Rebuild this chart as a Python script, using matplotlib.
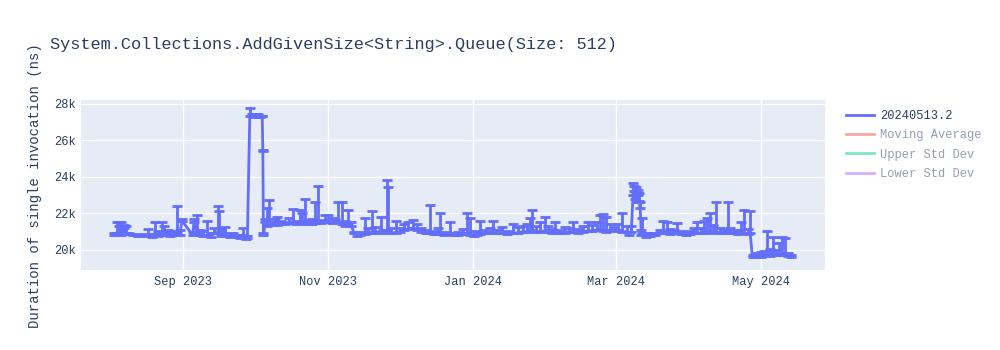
import matplotlib
matplotlib.use("Agg")
import matplotlib.pyplot as plt
import matplotlib.dates as mdates
from matplotlib.lines import Line2D
from matplotlib.ticker import FuncFormatter
import pandas as pd

plt.rcParams['font.family'] = ['Liberation Mono', 'DejaVu Sans Mono']

title = "System.Collections.AddGivenSize<String>.Queue(Size: 512)"
y_label = "Duration of single invocation (ns)"
series_name = "20240513.2"
hidden_series = ["Moving Average", "Upper Std Dev", "Lower Std Dev"]

dates = [
    "2023-08-03", "2023-08-04", "2023-08-05", "2023-08-06", "2023-08-07", "2023-08-08",
    "2023-08-09", "2023-08-11", "2023-08-13", "2023-08-15", "2023-08-17", "2023-08-19",
    "2023-08-20", "2023-08-21 12:00", "2023-08-23", "2023-08-24", "2023-08-25 12:00",
    "2023-08-26 12:00", "2023-08-28", "2023-08-29 12:00", "2023-08-30 12:00",
    "2023-08-31 12:00", "2023-09-05", "2023-09-05 12:00", "2023-09-07", "2023-09-08",
    "2023-09-09 12:00", "2023-09-11", "2023-09-12 12:00", "2023-09-14", "2023-09-15 12:00",
    "2023-09-16", "2023-09-17", "2023-09-18 12:00", "2023-09-20 12:00", "2023-09-22",
    "2023-09-23 12:00", "2023-09-25", "2023-09-26", "2023-09-27 12:00", "2023-09-28",
    "2023-09-29", "2023-09-30", "2023-10-01", "2023-10-01 18:00", "2023-10-02 12:00",
    "2023-10-03 12:00", "2023-10-04 06:00", "2023-10-04 12:00", "2023-10-04 18:00",
    "2023-10-05 12:00", "2023-10-06 06:00", "2023-10-07 06:00", "2023-10-08 12:00",
    "2023-10-09 18:00", "2023-10-10 12:00", "2023-10-12 06:00", "2023-10-14",
    "2023-10-15 12:00", "2023-10-17", "2023-10-18 12:00", "2023-10-20 06:00", "2023-10-21",
    "2023-10-22 06:00", "2023-10-24", "2023-10-25 06:00", "2023-10-26 12:00",
    "2023-10-27 18:00", "2023-10-29", "2023-10-30 18:00", "2023-11-01", "2023-11-02 18:00",
    "2023-11-04", "2023-11-05 06:00", "2023-11-07", "2023-11-08 06:00", "2023-11-09 12:00",
    "2023-11-10 18:00", "2023-11-12", "2023-11-13 06:00", "2023-11-14 12:00",
    "2023-11-16 12:00", "2023-11-17 18:00", "2023-11-19 12:00", "2023-11-20 18:00",
    "2023-11-23", "2023-11-24", "2023-11-25 18:00", "2023-11-26 06:00", "2023-11-27 12:00",
    "2023-11-29 12:00", "2023-12-01 06:00", "2023-12-03", "2023-12-04 18:00",
    "2023-12-06 18:00", "2023-12-08 12:00", "2023-12-10", "2023-12-12 06:00", "2023-12-14",
    "2023-12-15 12:00", "2023-12-17", "2023-12-18", "2023-12-19 18:00", "2023-12-22 06:00",
    "2023-12-24", "2023-12-25 18:00", "2023-12-27 18:00", "2023-12-29 12:00",
    "2023-12-30 18:00", "2024-01-01 12:00", "2024-01-02 18:00", "2024-01-04", "2024-01-06",
    "2024-01-08 06:00", "2024-01-09 12:00", "2024-01-11", "2024-01-13 06:00",
    "2024-01-15 06:00", "2024-01-17 18:00", "2024-01-20", "2024-01-22", "2024-01-23 18:00",
    "2024-01-25", "2024-01-25 18:00", "2024-01-27 12:00", "2024-01-29 06:00", "2024-01-31",
    "2024-02-01 12:00", "2024-02-03 06:00", "2024-02-04 12:00", "2024-02-06 12:00",
    "2024-02-08 18:00", "2024-02-10 12:00", "2024-02-12", "2024-02-14 06:00",
    "2024-02-16 06:00", "2024-02-18 12:00", "2024-02-20", "2024-02-22 06:00",
    "2024-02-23 12:00", "2024-02-24 18:00", "2024-02-26", "2024-02-27 12:00",
    "2024-02-29 06:00", "2024-03-02", "2024-03-03 18:00", "2024-03-05 12:00",
    "2024-03-06 12:00", "2024-03-07 12:00", "2024-03-08 06:00", "2024-03-08 18:00",
    "2024-03-09", "2024-03-09 12:00", "2024-03-10", "2024-03-10 12:00", "2024-03-10 18:00",
    "2024-03-11 06:00", "2024-03-11 18:00", "2024-03-12", "2024-03-13 12:00",
    "2024-03-15 12:00", "2024-03-17 12:00", "2024-03-19 18:00", "2024-03-21",
    "2024-03-22 12:00", "2024-03-24", "2024-03-25 12:00", "2024-03-26 18:00",
    "2024-03-28 12:00", "2024-03-30 12:00", "2024-04-01 06:00", "2024-04-03",
    "2024-04-04 06:00", "2024-04-05 18:00", "2024-04-07 06:00", "2024-04-08 12:00",
    "2024-04-09 18:00", "2024-04-11", "2024-04-12 06:00", "2024-04-14", "2024-04-15 12:00",
    "2024-04-17", "2024-04-18", "2024-04-19 18:00", "2024-04-21 12:00", "2024-04-22 18:00",
    "2024-04-24", "2024-04-25 18:00", "2024-04-26 12:00", "2024-04-27 12:00",
    "2024-04-28 12:00", "2024-04-30", "2024-05-01 06:00", "2024-05-02 12:00",
    "2024-05-03 18:00", "2024-05-05", "2024-05-06 06:00", "2024-05-07 12:00",
    "2024-05-08 18:00", "2024-05-10", "2024-05-11 06:00", "2024-05-12 12:00",
    "2024-05-13 12:00",
]

values = [
    20800, 20900, 21300, 20800, 21200, 20900,
    20850, 20800, 20750, 20750, 20800, 20700,
    20850, 20750, 20900, 20800, 20900,
    20750, 20800, 20900, 20800,
    21600, 20800, 21500, 20900, 20800,
    20750, 20800, 20700, 20900, 20900,
    21000, 20750, 20800, 20700, 20750,
    20700, 20650, 20800, 20600, 20650,
    27300, 27350, 27250, 27300, 27350,
    27250, 27300, 25400, 20800,
    21500, 21300, 21400, 21350,
    21400, 21350, 21400, 21400,
    21450, 21500, 21400, 21450, 21500,
    21400, 21450, 21400, 21450,
    21500, 21450, 21600, 21500, 21450,
    21500, 21500, 21400, 21300, 21350,
    21300, 20900, 20750, 20800,
    20850, 20900, 21000, 20950,
    21000, 20900, 21100, 21000, 20900,
    20950, 21000, 21100, 21150,
    21200, 21100, 21000, 20900, 20900,
    20850, 20900, 20850, 20800, 20850,
    20800, 20800, 20850, 20900,
    20800, 20750, 20800, 20850, 20900,
    20900, 20950, 20900, 20900,
    20850, 20900, 20950, 21000, 21000,
    21050, 21100, 21000, 21000, 21050,
    21000, 20950, 20950, 20900,
    20950, 21000, 21000, 20950,
    21000, 21050, 21050, 21100,
    21100, 21050, 21000, 21100,
    21050, 21100, 21000, 21000,
    20800, 21000, 23000, 23200,
    22800, 23100, 22600, 23000, 22700,
    22300, 20800, 20900, 20700,
    20750, 20800, 20900, 20950,
    21000, 20850, 20900, 20900,
    20850, 20800, 20850, 20900,
    20950, 20900, 20950, 21000,
    21000, 20950, 21000, 20900, 20900,
    20950, 20900, 20900, 20850, 20900,
    20900, 20850, 20900, 19600,
    19600, 19650, 19600, 19700,
    19700, 19650, 19750, 19700,
    19800, 19700, 19750, 19650,
    19600,
]

upper_error = [
    100, 600, 200, 700, 150, 400,
    100, 50, 50, 100, 350, 150,
    650, 300, 600, 500, 200,
    300, 200, 1500, 300,
    100, 200, 200, 1000, 300,
    300, 800, 200, 300, 1500,
    1100, 400, 450, 200, 150,
    100, 100, 400, 150, 100,
    450, 100, 100, 150, 100,
    100, 50, 50, 150,
    200, 1000, 1350, 200,
    300, 450, 200, 150,
    300, 750, 200, 750, 500,
    1400, 200, 300, 1150,
    2000, 200, 300, 400, 300,
    200, 1100, 1200, 300, 850,
    200, 100, 150, 200,
    900, 300, 1100, 300,
    800, 200, 2700, 2450, 300,
    650, 200, 300, 400,
    450, 300, 200, 200, 1550,
    200, 300, 1150, 200, 650,
    150, 200, 300, 1100,
    950, 300, 200, 750, 200,
    300, 650, 200, 350,
    200, 500, 300, 300, 400,
    700, 1100, 300, 500, 750,
    300, 200, 550, 200,
    300, 200, 500, 200,
    300, 450, 300, 400,
    800, 900, 800, 300,
    200, 300, 1000, 300,
    200, 300, 650, 300,
    400, 350, 500, 300, 400,
    300, 300, 850, 200,
    150, 100, 200, 650,
    500, 300, 200, 550,
    200, 150, 200, 300,
    550, 300, 650, 750,
    1000, 400, 1600, 300, 200,
    1650, 300, 200, 250, 600,
    1300, 300, 1200, 100,
    150, 200, 300, 250,
    1350, 400, 950, 300,
    600, 1000, 900, 200,
    100,
]

x = pd.to_datetime(dates, format='mixed')
lower_error = [0] * len(values)

fig = plt.figure(figsize=(10, 3.5), dpi=100)
ax = fig.add_axes([0.081, 0.2286, 0.744, 0.4857])
ax.set_facecolor('#E5ECF6')
for s in ax.spines.values():
    s.set_visible(False)

blue = '#636EFA'
ax.errorbar(x, values, yerr=[lower_error, upper_error], color=blue, lw=2,
            elinewidth=2, capsize=3.3, capthick=2, zorder=3)

ax.set_xlim(pd.Timestamp("2023-07-20"), pd.Timestamp("2024-05-28"))
ax.set_ylim(18900, 28200)
ax.set_yticks([20000, 22000, 24000, 26000, 28000])
ax.yaxis.set_major_formatter(FuncFormatter(lambda v, p: f"{int(v/1000)}k"))
ax.xaxis.set_major_locator(mdates.MonthLocator(bymonth=[1, 3, 5, 7, 9, 11]))
ax.xaxis.set_major_formatter(mdates.DateFormatter('%b %Y'))
ax.grid(True, color='white', lw=1)
ax.set_axisbelow(True)
ax.tick_params(length=0, colors='#2a3f5f', labelsize=8.64, pad=4)

fig.text(0.05, (350 - 45) / 350, title, fontsize=12.2, color='#2a3f5f', va='center', ha='left')
fig.text(0.035, (350 - 186) / 350, y_label, fontsize=10.08, color='#2a3f5f', rotation=90,
         va='center', ha='center')

hidden_colors = ['#EF553B', '#00CC96', '#AB63FA']
handles = [Line2D([0], [0], color=blue, lw=2)]
for c in hidden_colors:
    handles.append(Line2D([0], [0], color=c, lw=2, alpha=0.5))
labels = [series_name] + hidden_series
leg = fig.legend(handles, labels, loc='upper left', bbox_to_anchor=(0.846, (350 - 110) / 350),
                 frameon=False, fontsize=8.64, handlelength=2.35, handletextpad=0.5,
                 labelspacing=0.61, borderaxespad=0, borderpad=0)
for i, t in enumerate(leg.get_texts()):
    t.set_color('#2a3f5f')
    if i > 0:
        t.set_alpha(0.5)

fig.savefig('out.png', dpi=100)
